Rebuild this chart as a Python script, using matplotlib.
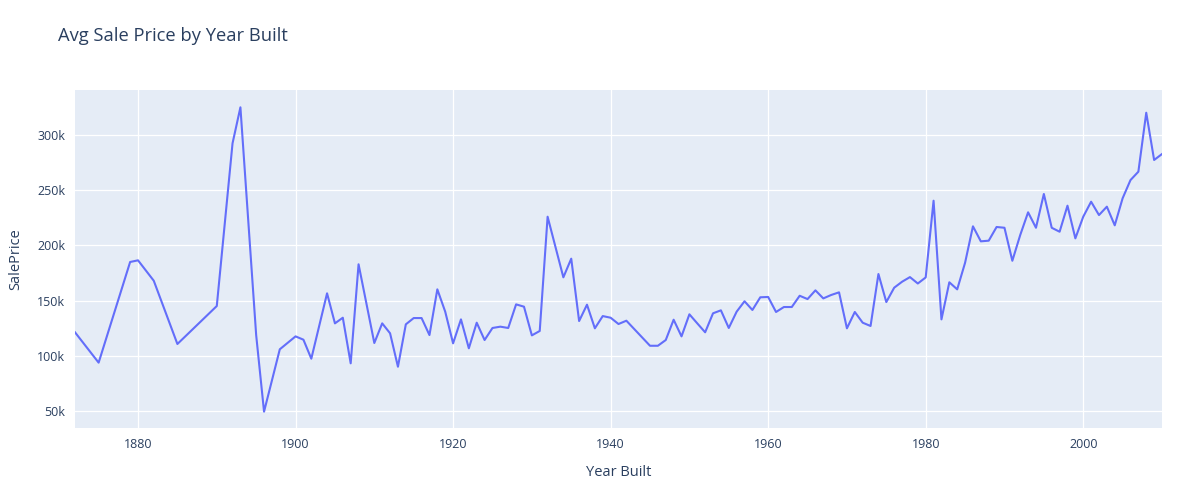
import matplotlib
matplotlib.use("Agg")
import matplotlib.pyplot as plt
from matplotlib.ticker import FuncFormatter

# average sale price per year built
years = [1872, 1875, 1879, 1880, 1882, 1885, 1890, 1892, 1893, 1895, 1896, 1898,
         1900, 1901, 1902, 1904, 1905, 1906, 1907, 1908, 1910, 1911, 1912, 1913,
         1914, 1915, 1916, 1917, 1918, 1919, 1920, 1921, 1922, 1923, 1924, 1925,
         1926, 1927, 1928, 1929, 1930, 1931, 1932, 1934, 1935, 1936, 1937, 1938,
         1939, 1940, 1941, 1942, 1945, 1946, 1947, 1948, 1949, 1950, 1951, 1952,
         1953, 1954, 1955, 1956, 1957, 1958, 1959, 1960, 1961, 1962, 1963, 1964,
         1965, 1966, 1967, 1968, 1969, 1970, 1971, 1972, 1973, 1974, 1975, 1976,
         1977, 1978, 1979, 1980, 1981, 1982, 1983, 1984, 1985, 1986, 1987, 1988,
         1989, 1990, 1991, 1992, 1993, 1994, 1995, 1996, 1997, 1998, 1999, 2000,
         2001, 2002, 2003, 2004, 2005, 2006, 2007, 2008, 2009, 2010]
sale_price = [121300, 93800, 185000, 186500, 168000, 110700, 145100, 292500, 325100,
              118800, 49400, 105900,
              117600, 114600, 97400, 156600, 129400, 134500, 93200, 182900, 111600, 129400,
              120400, 90100,
              128500, 134200, 134200, 118800, 160200, 140000, 111300, 133000, 106800, 130000,
              114300, 125200,
              126400, 125200, 146600, 144500, 118500, 122500, 226000, 171100, 188000, 131500,
              146300, 124900,
              136000, 134500, 128800, 131800, 109100, 109100, 114300, 132700, 117600, 137600,
              129400, 121300,
              138500, 141200, 125200, 140000, 149400, 141500, 153000, 153300, 139700, 144200,
              144200, 154400,
              151400, 159300, 152000, 155100, 157500, 124900, 139700, 130000, 127000, 174100,
              148700, 161700,
              167100, 171300, 165500, 171000, 240500, 133000, 166600, 160200, 184300, 217300,
              203700, 204300,
              216700, 216000, 186100, 209400, 230000, 216000, 246600, 216000, 212400, 236000,
              206400, 226000,
              239600, 227500, 235100, 218200, 242700, 259200, 266800, 320200, 277400, 282800]

x_ticks = [1880, 1900, 1920, 1940, 1960, 1980, 2000]
y_ticks = [50000, 100000, 150000, 200000, 250000, 300000]

text_col = "#2a3f5f"
plt.rcParams["font.family"] = ["Open Sans", "DejaVu Sans"]

fig = plt.figure(figsize=(12, 4.86), dpi=100)
ax = fig.add_axes([75 / 1200, 1 - 428 / 486, 1087 / 1200, 338 / 486])
ax.set_facecolor("#E5ECF6")

ax.plot(years, sale_price, color="#636efa", lw=1.5, solid_joinstyle="round", zorder=3)

ax.set_xlim(1872, 2010)
ax.set_ylim(34600, 340800)
ax.set_xticks(x_ticks)
ax.set_yticks(y_ticks)
ax.yaxis.set_major_formatter(FuncFormatter(lambda v, p: f"{int(v / 1000)}k"))
ax.grid(True, color="white", lw=0.9, zorder=0)
ax.set_axisbelow(True)
for s in ax.spines.values():
    s.set_visible(False)
ax.tick_params(length=0, colors=text_col, labelsize=9, pad=7)

ax.set_xlabel("Year Built", fontsize=10.5, color=text_col, labelpad=10)
ax.set_ylabel("SalePrice", fontsize=10.5, color=text_col, labelpad=10)
fig.text(58 / 1200, 1 - 36 / 486, "Avg Sale Price by Year Built", fontsize=13.2,
         color=text_col, va="center", ha="left")

fig.savefig("out.png", dpi=100)
